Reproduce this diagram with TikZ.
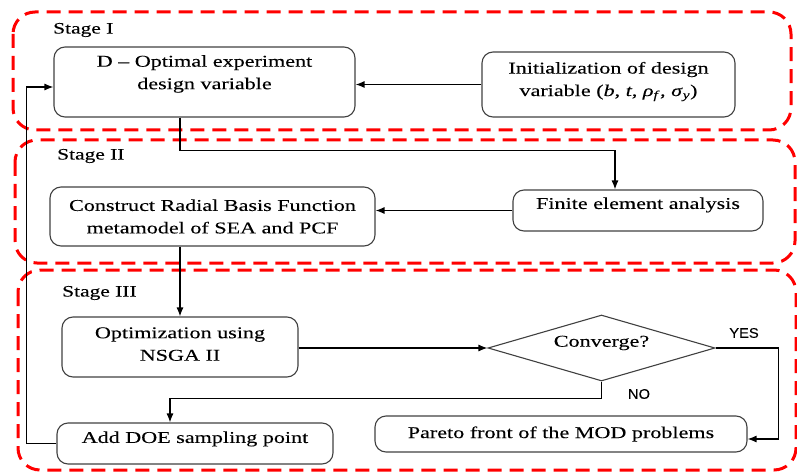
\documentclass[tikz,border=0pt]{standalone}
\usepackage{fontspec}
\setmainfont{Liberation Serif}[FakeStretch=1.34,FakeBold=0.15]
\newfontfamily\answerfont{Liberation Sans}[FakeStretch=1.05,FakeBold=0.15]
\usetikzlibrary{arrows.meta,shapes.geometric}

\begin{document}
\begin{tikzpicture}[x=1pt,y=-1pt,
  stagebox/.style={draw=red, line width=3pt, dash pattern=on 14pt off 8pt, rounded corners=22pt},
  stepbox/.style={draw=black!75, line width=1.1pt, rounded corners=11pt, align=center,
    inner sep=0pt, font=\fontsize{16.5}{22.5}\selectfont},
  decision/.style={diamond, aspect=3.4, draw=black!75, line width=1.1pt, inner sep=0pt,
    font=\fontsize{16.5}{22.5}\selectfont},
  stagelabel/.style={anchor=west, inner sep=0pt, font=\fontsize{16}{19}\selectfont},
  flow/.style={draw=black, line width=1.2pt, -{Latex[length=9pt,width=7pt]}},
  answer/.style={inner sep=0pt, font=\answerfont\fontsize{14}{16}\selectfont}
]
\useasboundingbox (0,0) rectangle (797,473);

% stage frames
\draw[stagebox] (13,12) rectangle (791,130);
\draw[stagebox] (15,140) rectangle (795,263);
\draw[stagebox] (18,270) rectangle (796,470);

\node[stagelabel] (lab1) at (53,30) {Stage I};
\node[stagelabel] (lab2) at (57,156) {Stage II};
\node[stagelabel] (lab3) at (62,293) {Stage III};

% process steps
\node[stepbox, minimum width=301pt, minimum height=70pt, text depth=19.6pt] (dopt) at (204.5,82)
  {D -- Optimal experiment\\design variable};
\node[stepbox, minimum width=253pt, minimum height=65pt, text depth=11pt] (init) at (608.5,84.5)
  {Initialization of design\\variable (\textit{b}, \textit{t}, \textit{ρ}\textsubscript{\textit{f}}, \textit{σ}\textsubscript{\textit{y}})};
\node[stepbox, minimum width=250pt, minimum height=41pt, text depth=14.6pt] (fea) at (638,210.5)
  {Finite element analysis};
\node[stepbox, minimum width=325pt, minimum height=59pt] (construct) at (212.5,216.5)
  {Construct Radial Basis Function\\metamodel of SEA and PCF};
\node[stepbox, minimum width=236pt, minimum height=60pt, text depth=6pt] (opt) at (180,347)
  {Optimization using\\NSGA II};
\node[decision, minimum width=227pt, minimum height=66pt, text depth=13.6pt] (conv) at (601.5,348)
  {Converge?};
\node[stepbox, minimum width=276pt, minimum height=41pt, text depth=12.6pt] (doe) at (195,443.5)
  {Add DOE sampling point};
\node[stepbox, minimum width=372pt, minimum height=36pt] (pareto) at (561,434)
  {Pareto front of the MOD problems};

% connectors
\draw[flow] (init.west) -- (init.west -| dopt.east);
\draw[flow] ([xshift=-24.5pt]dopt.south) -- ++(0,33) -| ([xshift=-23pt]fea.north);
\draw[flow] (fea.west) -- (fea.west -| construct.east);
\draw[flow] (opt.north |- construct.south) -- (opt.north);
\draw[flow] (opt.east |- conv.west) -- (conv.west);
\draw[flow] (conv.east) -- ++(63,0) |- ([yshift=-5pt]pareto.east);
\draw[flow] (conv.south) -- ++(0,17) -| ([xshift=-25pt]doe.north);
\draw[flow] (doe.west) -- ++(-30,0) |- ([yshift=-5pt]dopt.west);

\node[answer] (yes) at (744,333) {YES};
\node[answer] (no) at (639,394) {NO};
\end{tikzpicture}
\end{document}
